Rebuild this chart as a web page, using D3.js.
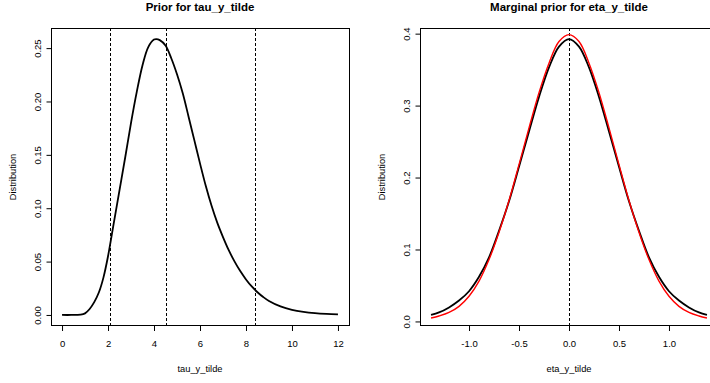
<!DOCTYPE html>
<html>
<head>
<meta charset="utf-8">
<title>Priors</title>
<style>
  body { margin: 0; background: #fff; }
  svg text { font-family: "Liberation Sans", Arial, Helvetica, sans-serif; fill: #000; }
  .main { font-size: 11.5px; font-weight: bold; }
  .tick-lab { font-size: 9.5px; }
  .ax-lab { font-size: 9.3px; }
</style>
</head>
<body>
<script src="https://cdn.jsdelivr.net/npm/d3@7"></script>
<script>
// left panel: prior density of tau_y_tilde
var tauX    = [0, 0.4, 0.8, 1.0, 1.2, 1.4, 1.6, 1.8, 2.0, 2.25, 2.5, 2.75, 3.0, 3.25, 3.5, 3.75, 4.0, 4.1, 4.25, 4.5,
               4.75, 5.0, 5.25, 5.5, 5.75, 6.0, 6.25, 6.5, 6.75, 7.0, 7.25, 7.5, 7.75, 8.0, 8.25, 8.5, 8.75, 9.0,
               9.5, 10.0, 10.5, 11.0, 11.5, 12];
var tauDens = [0, 0, 0.0003, 0.0015, 0.0056, 0.012, 0.021, 0.035, 0.055, 0.086, 0.117, 0.148, 0.180, 0.209, 0.234, 0.251, 0.258, 0.2585, 0.2575, 0.2525,
               0.2405, 0.2255, 0.2077, 0.186, 0.164, 0.142, 0.121, 0.1025, 0.0865, 0.073, 0.0607, 0.0502, 0.0411, 0.0333, 0.0267, 0.0213, 0.0168, 0.0131,
               0.0080, 0.0048, 0.0029, 0.0017, 0.0010, 0.0006];
var tauQuant = [2.07, 4.51, 8.39];
var tauTicksX = [0, 2, 4, 6, 8, 10, 12];
var tauTicksY = [0, 0.05, 0.10, 0.15, 0.20, 0.25];

// right panel: marginal prior of eta_y_tilde (black) and reference curve (red)
var etaX     = [-1.38, -1.3, -1.2, -1.1, -1.0, -0.9, -0.8, -0.7, -0.6, -0.5, -0.4, -0.3, -0.2, -0.1, 0,
                0.1, 0.2, 0.3, 0.4, 0.5, 0.6, 0.7, 0.8, 0.9, 1.0, 1.1, 1.2, 1.3, 1.38];
var etaBlack = [0.009, 0.0125, 0.0195, 0.029, 0.042, 0.062, 0.089, 0.126, 0.167, 0.215, 0.264, 0.312, 0.353, 0.382, 0.3925,
                0.382, 0.353, 0.312, 0.264, 0.215, 0.167, 0.126, 0.089, 0.062, 0.042, 0.029, 0.0195, 0.0125, 0.009];
var etaRed   = [0.0047, 0.0075, 0.0125, 0.021, 0.035, 0.056, 0.086, 0.124, 0.168, 0.218, 0.269, 0.318, 0.359, 0.389, 0.3986,
                0.389, 0.359, 0.318, 0.269, 0.218, 0.168, 0.124, 0.086, 0.056, 0.035, 0.021, 0.0125, 0.0075, 0.0047];
var etaTicksX = [-1.0, -0.5, 0, 0.5, 1.0];
var etaTicksY = [0, 0.1, 0.2, 0.3, 0.4];

var svg = d3.select('body').append('svg')
  .attr('width', 710)
  .attr('height', 383);

// R-style limits: data range padded by 4% each side
function pad(ext) {
  var d = (ext[1] - ext[0]) * 0.04;
  return [ext[0] - d, ext[1] + d];
}

function panel(opts) {
  var x = d3.scaleLinear().domain(pad(d3.extent(opts.xs))).range([opts.left, opts.left + 298]);
  var y = d3.scaleLinear().domain(pad(d3.extent(opts.ys))).range([326, 28]);

  var g = svg.append('g');

  // dashed reference lines
  g.selectAll('line.ref')
    .data(opts.refs)
    .enter().append('line')
    .attr('class', 'ref')
    .attr('x1', d => Math.round(x(d)) + 0.5)
    .attr('x2', d => Math.round(x(d)) + 0.5)
    .attr('y1', 28).attr('y2', 326)
    .attr('stroke', '#000')
    .attr('stroke-width', 1)
    .attr('stroke-dasharray', '3,2');

  opts.curves.forEach(function(c) {
    var line = d3.line()
      .x((d, i) => x(opts.xs[i]))
      .y(d => y(d))
      .curve(d3.curveCatmullRom.alpha(0.5));
    g.append('path')
      .datum(c.ys)
      .attr('d', line)
      .attr('fill', 'none')
      .attr('stroke', c.color)
      .attr('stroke-width', c.width);
  });

  // box
  g.append('rect')
    .attr('x', opts.left + 0.5).attr('y', 28.5)
    .attr('width', 298).attr('height', 297)
    .attr('fill', 'none')
    .attr('stroke', '#000');

  var xAxis = d3.axisBottom(x).tickValues(opts.ticksX).tickSize(5).tickPadding(9).tickFormat(opts.fmtX);
  var gx = g.append('g').attr('transform', 'translate(0,326)').call(xAxis);
  gx.select('.domain').remove();
  gx.selectAll('text').attr('class', 'tick-lab').attr('font-size', null).attr('font-family', null);

  var yAxis = d3.axisLeft(y).tickValues(opts.ticksY).tickSize(5).tickFormat(opts.fmtY);
  var gy = g.append('g').attr('transform', 'translate(' + (opts.left + 0.5) + ',0)').call(yAxis);
  gy.select('.domain').remove();
  gy.selectAll('text')
    .attr('class', 'tick-lab').attr('font-size', null).attr('font-family', null)
    .attr('x', null).attr('dy', null)
    .attr('text-anchor', 'middle')
    .attr('transform', 'translate(-11,0) rotate(-90)');

  var cx = opts.left + 149;
  g.append('text').attr('class', 'main')
    .attr('x', cx).attr('y', 11)
    .attr('text-anchor', 'middle')
    .text(opts.title);

  g.append('text').attr('class', 'ax-lab')
    .attr('x', cx).attr('y', 372)
    .attr('text-anchor', 'middle')
    .text(opts.xlab);

  g.append('text').attr('class', 'ax-lab')
    .attr('transform', 'translate(' + (opts.left - 35) + ',177) rotate(-90)')
    .attr('text-anchor', 'middle')
    .text('Distribution');
}

panel({
  left: 51, xs: tauX, ys: tauDens, refs: tauQuant,
  curves: [{ ys: tauDens, color: '#000', width: 1.8 }],
  ticksX: tauTicksX, ticksY: tauTicksY,
  fmtX: d3.format('d'), fmtY: d3.format('.2f'),
  title: 'Prior for tau_y_tilde', xlab: 'tau_y_tilde'
});

panel({
  left: 420, xs: etaX, ys: etaBlack, refs: [0],
  curves: [{ ys: etaBlack, color: '#000', width: 1.8 }, { ys: etaRed, color: '#ff0000', width: 1.4 }],
  ticksX: etaTicksX, ticksY: etaTicksY,
  fmtX: d => d3.format('.1f')(d).replace('\u2212', '-'), fmtY: d3.format('.1f'),
  title: 'Marginal prior for eta_y_tilde', xlab: 'eta_y_tilde'
});
</script>
</body>
</html>
